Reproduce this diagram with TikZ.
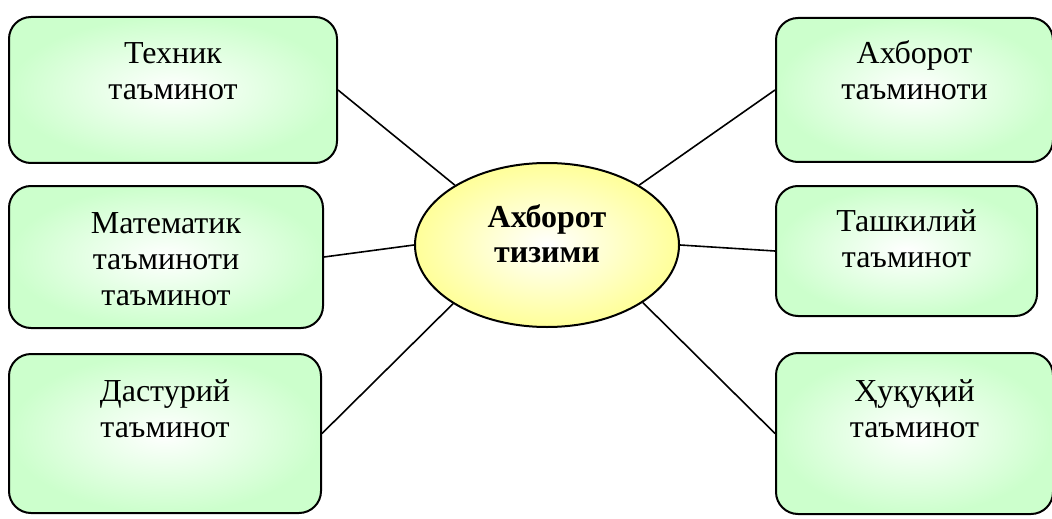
\documentclass[tikz,border=0pt]{standalone}
\usepackage{fontspec}
\setmainfont{Liberation Serif}
\usetikzlibrary{shapes.geometric}
\definecolor{lightgreen}{RGB}{204,255,204}
\definecolor{lightyellow}{RGB}{255,255,153}
\begin{document}
\begin{tikzpicture}[x=1pt, y=-1pt,
        main/.style = {draw, line width=1pt, rounded corners=11pt, inner sep=0pt, align=center, anchor=north west, shading=radial, inner color=white, outer color=lightgreen, font=\fontsize{16}{18}\selectfont},
        hub/.style = {draw, ellipse, line width=1pt, minimum width=132pt, minimum height=82pt, inner sep=0pt, align=center, text height=28pt, text depth=11pt, shading=radial, inner color=white, outer color=lightyellow, font=\fontsize{16}{17.5}\selectfont\bfseries}]
                \useasboundingbox (0,0) rectangle (526,259);
                \node[hub] (c) at (273.5,122.5) {Ахборот\\тизими};
                \node[main, text width=164pt, text height=23.5pt, text depth=49.5pt] (1) at (4,8) {Техник\\таъминот};
                \node[main, text width=157pt, text height=23.5pt, text depth=47.5pt] (2) at (4,92.5) {Математик\\таъминоти\\таъминот};
                \node[main, text width=156pt, text height=23.5pt, text depth=56pt] (3) at (4,176.5) {Дастурий\\таъминот};
                \node[main, text width=138.5pt, text height=23pt, text depth=49pt] (4) at (387.5,8.5) {Ахборот\\таъминоти};
                \node[main, text width=130.5pt, text height=22.5pt, text depth=42.5pt] (5) at (387.5,92.5) {Ташкилий\\таъминот};
                \node[main, text width=138.5pt, text height=24pt, text depth=56.5pt] (6) at (387.5,176) {Ҳуқуқий\\таъминот};

                \draw[line width=0.8pt] (1.east) -- (c.147);
                \draw[line width=0.8pt] (2.east) -- (c.180);
                \draw[line width=0.8pt] (3.east) -- (c.212);
                \draw[line width=0.8pt] (c.33) -- (4.west);
                \draw[line width=0.8pt] (c.0) -- (5.west);
                \draw[line width=0.8pt] (c.329) -- (6.west);
            \end{tikzpicture}
\end{document}
